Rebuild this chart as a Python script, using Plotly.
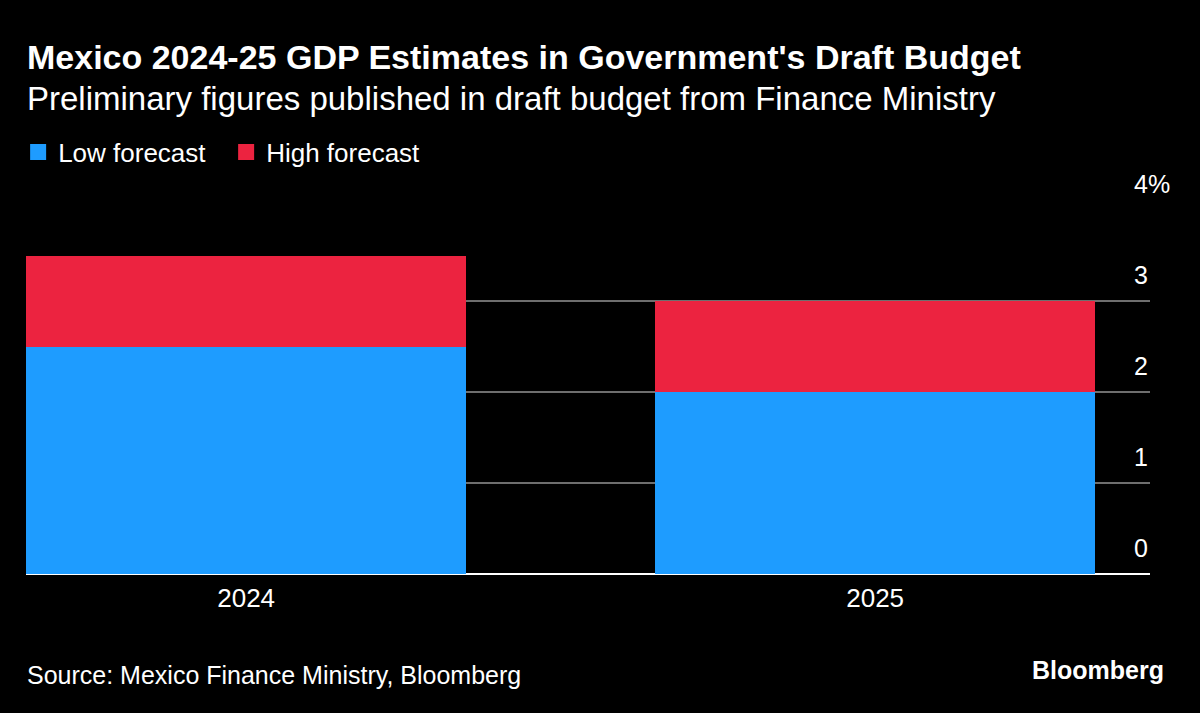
import plotly.graph_objects as go

years = ["2024", "2025"]
low_forecast = [2.5, 2.0]
high_extra = [1.0, 1.0]
series_names = ["Low forecast", "High forecast"]
y_ticks = [0, 1, 2, 3, 4]
y_ticktext = ["0", "1", "2", "3", "4%"]

BLUE = "#1E9CFF"
RED = "#EC2340"
FONT = "Liberation Sans"

fig = go.Figure()
fig.add_trace(go.Bar(x=years, y=low_forecast, name=series_names[0], showlegend=False,
                     marker=dict(color=BLUE, line=dict(width=0)), width=0.7))
fig.add_trace(go.Bar(x=years, y=high_extra, name=series_names[1], showlegend=False,
                     marker=dict(color=RED, line=dict(width=0)), width=0.7))
# legend entries with larger square swatches
for nm, col in zip(series_names, [BLUE, RED]):
    fig.add_trace(go.Scatter(x=[None], y=[None], mode="markers", name=nm,
                             marker=dict(symbol="square", size=17, color=col),
                             hoverinfo="skip"))

fig.update_layout(
    width=1200, height=713,
    barmode="stack",
    paper_bgcolor="black", plot_bgcolor="black",
    margin=dict(l=26, r=50, t=210, b=139),
    font=dict(family=FONT, color="white", size=24),
    showlegend=True,
    legend=dict(orientation="h", x=-0.007, y=(574 - 152) / 364, xanchor="left", yanchor="middle",
                font=dict(size=26, color="white"), bgcolor="rgba(0,0,0,0)",
                itemsizing="trace", traceorder="normal", entrywidth=163, entrywidthmode="pixels"),
    xaxis=dict(type="category", range=[-0.35, 1.437], showgrid=False,
               showline=False, ticks="", tickfont=dict(size=26, color="white"),
               ticklabelstandoff=6, fixedrange=True),
    yaxis=dict(side="right", range=[0, 4], tickvals=y_ticks, ticktext=y_ticktext,
               showgrid=True, gridcolor="#6e6e6e", gridwidth=1.5,
               zeroline=True, zerolinecolor="white", zerolinewidth=2,
               showline=False, ticks="",
               ticklabelposition="outside top", ticklabelstandoff=-17, ticklabelshift=-8,
               tickfont=dict(size=25, color="white"), fixedrange=True),
    annotations=[
        dict(text="<b>Mexico 2024-25 GDP Estimates in Government's Draft Budget</b>",
             xref="paper", yref="paper", x=-0.001, y=(574 - 57) / 364, xanchor="left", yanchor="middle",
             showarrow=False, font=dict(size=34, color="white", family=FONT)),
        dict(text="Preliminary figures published in draft budget from Finance Ministry",
             xref="paper", yref="paper", x=-0.001, y=(574 - 99) / 364, xanchor="left", yanchor="middle",
             showarrow=False, font=dict(size=33, color="white", family=FONT)),
        dict(text="Source: Mexico Finance Ministry, Bloomberg",
             xref="paper", yref="paper", x=-0.001, y=(574 - 675) / 364, xanchor="left", yanchor="middle",
             showarrow=False, font=dict(size=25, color="white", family=FONT)),
        dict(text="<b>Bloomberg</b>",
             xref="paper", yref="paper", x=(1166 - 26) / 1124, y=(574 - 670) / 364,
             xanchor="right", yanchor="middle",
             showarrow=False, font=dict(size=25, color="white", family=FONT)),
    ],
)

fig.write_html("out.html")
